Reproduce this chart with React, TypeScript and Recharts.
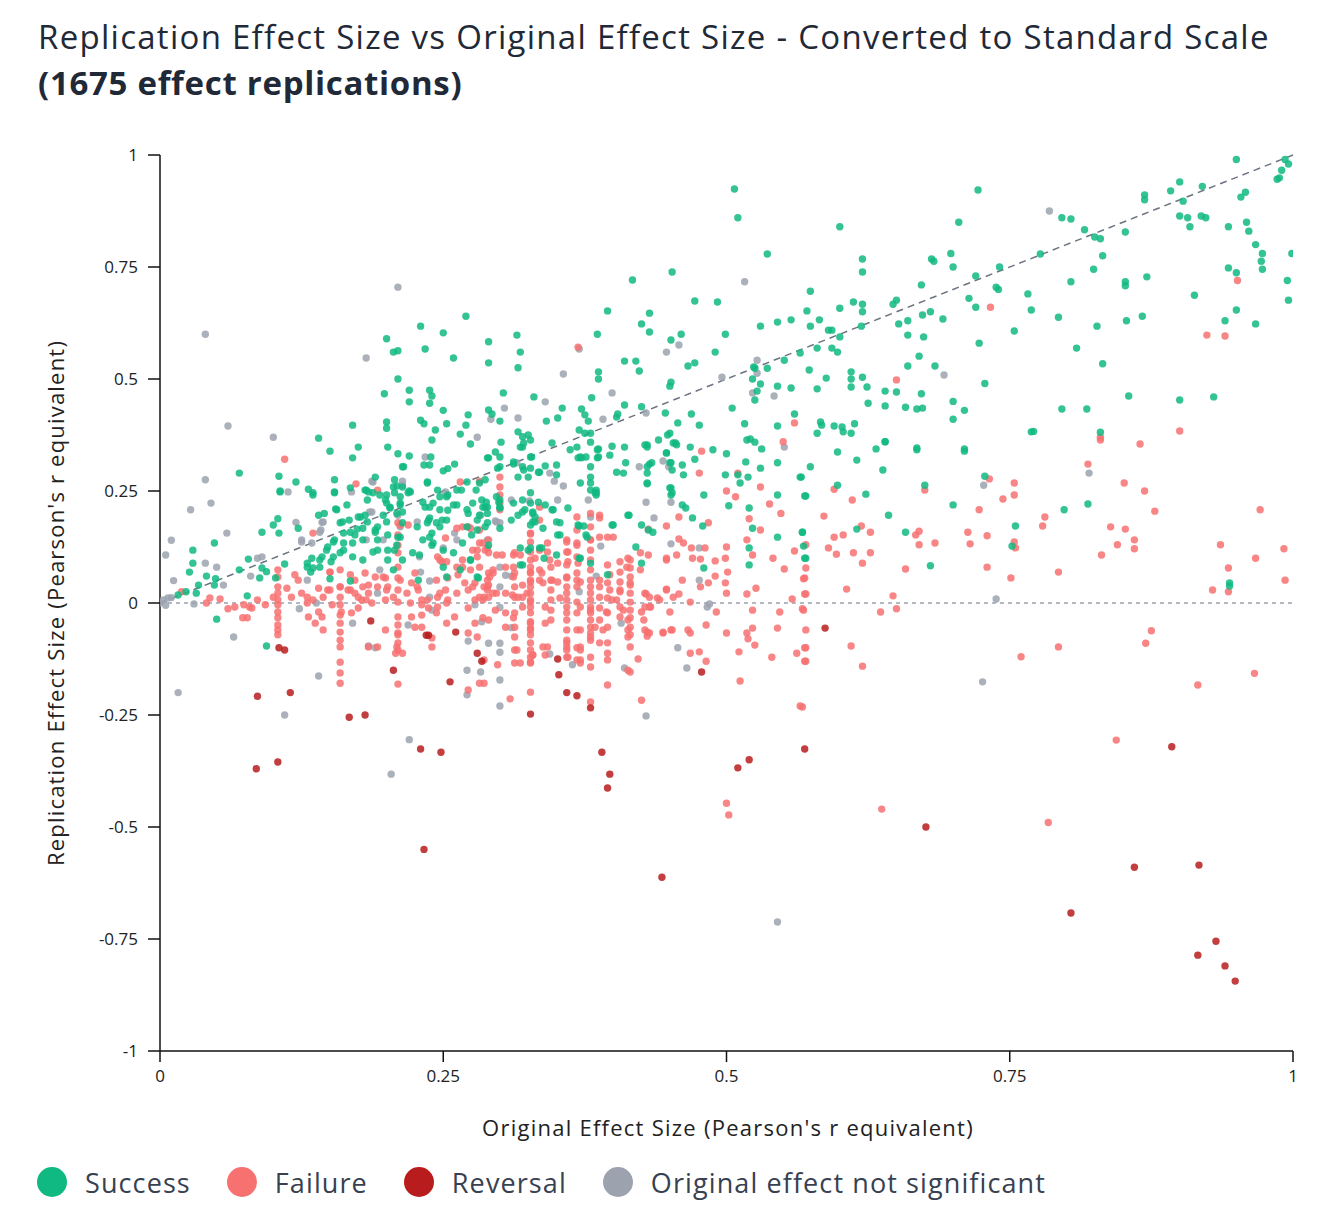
import React from "react";
import {
  ScatterChart,
  Scatter,
  XAxis,
  YAxis,
  ReferenceLine,
} from "recharts";

type Pt = [number, number];

const xTicks = [0, 0.25, 0.5, 0.75, 1];
const yTicks = [-1, -0.75, -0.5, -0.25, 0, 0.25, 0.5, 0.75, 1];

// replication outcome groups, [original r, replication r]
const success: Pt[] = [
  [0.95, 0.99], [0.993, 0.99], [0.996, 0.98], [0.99, 0.966], [0.986, 0.946], [0.988, 0.949], [0.954, 0.906], [0.958, 0.917],
  [0.92, 0.93], [0.9, 0.94], [0.892, 0.92], [0.903, 0.897], [0.869, 0.911], [0.869, 0.9], [0.9, 0.864], [0.907, 0.86],
  [0.909, 0.84], [0.919, 0.864], [0.923, 0.86], [0.943, 0.84], [0.959, 0.85], [0.961, 0.83], [0.967, 0.8], [0.973, 0.78],
  [0.972, 0.763], [0.973, 0.745], [0.999, 0.78], [0.943, 0.748], [0.95, 0.737], [0.995, 0.72], [0.996, 0.676], [0.913, 0.687],
  [0.95, 0.654], [0.94, 0.63], [0.967, 0.623], [0.9, 0.453], [0.93, 0.46], [0.852, 0.717], [0.852, 0.708], [0.871, 0.728],
  [0.853, 0.63], [0.867, 0.64], [0.827, 0.618], [0.832, 0.775], [0.824, 0.745], [0.825, 0.817], [0.83, 0.813], [0.816, 0.833],
  [0.852, 0.828], [0.796, 0.86], [0.804, 0.857], [0.777, 0.779], [0.804, 0.717], [0.809, 0.569], [0.832, 0.534], [0.855, 0.462],
  [0.796, 0.433], [0.818, 0.433], [0.83, 0.381], [0.769, 0.382], [0.771, 0.383], [0.766, 0.69], [0.769, 0.654], [0.793, 0.638],
  [0.754, 0.607], [0.741, 0.75], [0.738, 0.705], [0.74, 0.7], [0.72, 0.73], [0.714, 0.68], [0.72, 0.66], [0.723, 0.58],
  [0.728, 0.49], [0.722, 0.922], [0.705, 0.85], [0.698, 0.78], [0.7, 0.75], [0.681, 0.768], [0.683, 0.763], [0.672, 0.71],
  [0.647, 0.667], [0.65, 0.676], [0.652, 0.623], [0.66, 0.63], [0.673, 0.643], [0.68, 0.65], [0.691, 0.634], [0.66, 0.598],
  [0.674, 0.594], [0.67, 0.551], [0.66, 0.529], [0.684, 0.529], [0.64, 0.473], [0.65, 0.471], [0.672, 0.467], [0.64, 0.44],
  [0.658, 0.437], [0.668, 0.433], [0.673, 0.435], [0.7, 0.45], [0.71, 0.43], [0.7, 0.41], [0.64, 0.36], [0.668, 0.346],
  [0.71, 0.344],
  [0.507, 0.924], [0.51, 0.86], [0.6, 0.84], [0.536, 0.779], [0.62, 0.768], [0.62, 0.739], [0.574, 0.696], [0.417, 0.721],
  [0.452, 0.739], [0.6, 0.658], [0.612, 0.672], [0.62, 0.667], [0.62, 0.65], [0.571, 0.652], [0.582, 0.632], [0.574, 0.618],
  [0.557, 0.632], [0.545, 0.627], [0.53, 0.618], [0.619, 0.618], [0.59, 0.609], [0.593, 0.609], [0.6, 0.594], [0.472, 0.674],
  [0.492, 0.672], [0.395, 0.652], [0.432, 0.647], [0.425, 0.623], [0.432, 0.605], [0.499, 0.6], [0.46, 0.6], [0.451, 0.587],
  [0.386, 0.6], [0.29, 0.583], [0.315, 0.598], [0.318, 0.56], [0.29, 0.536], [0.316, 0.525], [0.41, 0.54], [0.42, 0.54],
  [0.423, 0.518], [0.387, 0.516], [0.387, 0.5], [0.472, 0.536], [0.466, 0.529], [0.49, 0.56], [0.451, 0.493], [0.45, 0.484],
  [0.524, 0.527], [0.525, 0.524], [0.536, 0.524], [0.523, 0.5], [0.53, 0.489], [0.527, 0.473], [0.525, 0.453], [0.551, 0.542],
  [0.565, 0.558], [0.58, 0.569], [0.593, 0.569], [0.598, 0.56], [0.573, 0.52], [0.588, 0.502], [0.58, 0.478], [0.61, 0.516],
  [0.61, 0.5], [0.61, 0.482], [0.62, 0.504], [0.624, 0.482], [0.625, 0.446], [0.545, 0.484], [0.557, 0.48], [0.505, 0.435],
  [0.41, 0.442], [0.425, 0.438], [0.446, 0.424], [0.469, 0.422], [0.303, 0.469], [0.33, 0.46], [0.355, 0.435], [0.381, 0.458],
  [0.372, 0.433], [0.29, 0.431], [0.293, 0.422], [0.3, 0.406], [0.341, 0.406], [0.351, 0.413], [0.375, 0.42], [0.378, 0.406],
  [0.403, 0.415], [0.404, 0.422], [0.457, 0.402], [0.476, 0.397], [0.516, 0.4], [0.545, 0.395], [0.56, 0.422], [0.584, 0.397],
  [0.583, 0.404], [0.595, 0.395], [0.602, 0.393], [0.603, 0.382], [0.61, 0.379], [0.613, 0.4], [0.58, 0.379], [0.316, 0.382],
  [0.32, 0.371], [0.325, 0.375], [0.327, 0.364], [0.301, 0.359], [0.37, 0.386], [0.375, 0.379], [0.38, 0.379], [0.38, 0.359],
  [0.399, 0.35], [0.43, 0.353], [0.44, 0.364], [0.448, 0.375], [0.453, 0.357], [0.518, 0.364], [0.521, 0.366], [0.525, 0.359],
  [0.27, 0.64], [0.23, 0.618], [0.25, 0.603], [0.259, 0.547], [0.2, 0.59], [0.206, 0.56], [0.21, 0.563], [0.234, 0.567],
  [0.21, 0.5], [0.198, 0.467], [0.22, 0.475], [0.22, 0.449], [0.238, 0.475], [0.24, 0.462], [0.238, 0.446], [0.25, 0.43],
  [0.272, 0.42], [0.253, 0.4], [0.27, 0.397], [0.265, 0.377], [0.274, 0.355], [0.23, 0.408], [0.233, 0.4], [0.243, 0.386],
  [0.24, 0.364], [0.2, 0.404], [0.2, 0.39], [0.17, 0.397], [0.201, 0.348], [0.21, 0.333], [0.22, 0.328], [0.215, 0.304],
  [0.17, 0.324], [0.175, 0.348], [0.14, 0.368], [0.15, 0.339], [0.07, 0.29], [0.105, 0.283], [0.106, 0.25], [0.12, 0.27],
  [0.131, 0.254], [0.135, 0.246], [0.154, 0.275], [0.154, 0.248], [0.168, 0.257], [0.182, 0.252], [0.19, 0.281], [0.207, 0.275],
  [0.209, 0.261], [0.22, 0.25], [0.236, 0.27], [0.239, 0.326], [0.233, 0.308], [0.238, 0.308], [0.271, 0.27], [0.245, 0.252],
  [0.254, 0.241], [0.266, 0.252], [0.279, 0.252], [0.25, 0.295], [0.254, 0.3], [0.26, 0.31],
  [0.09, 0.158], [0.104, 0.188], [0.1, 0.174], [0.105, 0.156], [0.122, 0.167], [0.048, 0.134], [0.029, 0.118], [0.029, 0.089],
  [0.026, 0.069], [0.041, 0.06], [0.049, 0.054], [0.048, 0.04], [0.034, 0.04], [0.023, 0.025], [0.016, 0.018], [0.032, 0.022],
  [0.05, -0.036], [0.094, -0.096], [0.07, 0.074], [0.078, 0.098], [0.088, 0.056], [0.077, 0.016], [0.094, 0.07], [0.102, 0.056],
  [0.11, 0.087], [0.13, 0.089], [0.134, 0.1], [0.14, 0.196], [0.145, 0.2], [0.155, 0.21], [0.165, 0.219], [0.159, 0.179],
  [0.167, 0.185], [0.175, 0.192], [0.181, 0.196], [0.174, 0.165], [0.172, 0.152], [0.162, 0.156], [0.154, 0.141], [0.148, 0.125],
  [0.159, 0.112], [0.143, 0.103], [0.151, 0.092], [0.135, 0.078], [0.15, 0.054], [0.168, 0.049], [0.19, 0.163], [0.192, 0.118],
  [0.199, 0.23], [0.203, 0.214], [0.212, 0.223], [0.214, 0.203], [0.214, 0.179], [0.201, 0.152], [0.21, 0.147], [0.207, 0.118],
  [0.201, 0.096], [0.206, 0.074], [0.228, 0.051], [0.229, 0.107], [0.234, 0.214], [0.241, 0.223], [0.237, 0.185], [0.249, 0.185],
  [0.254, 0.207], [0.262, 0.219], [0.272, 0.2], [0.24, 0.156], [0.24, 0.129], [0.25, 0.08], [0.267, 0.134], [0.274, 0.096],
  [0.28, 0.163], [0.253, 0.058], [0.281, 0.056], [0.285, 0.214], [0.207, 0.246], [0.219, 0.246], [0.184, 0.248], [0.154, 0.246],
  [0.135, 0.241], [0.106, 0.248], [0.09, 0.078],
  [0.181, 0.252], [0.188, 0.246], [0.2, 0.241], [0.206, 0.259], [0.214, 0.259], [0.221, 0.248], [0.212, 0.237], [0.214, 0.304],
  [0.236, 0.268], [0.232, 0.225], [0.238, 0.214], [0.247, 0.237], [0.253, 0.237], [0.262, 0.252], [0.259, 0.219], [0.271, 0.208],
  [0.238, 0.19], [0.244, 0.179], [0.236, 0.179], [0.253, 0.185], [0.247, 0.208], [0.156, 0.208], [0.183, 0.23], [0.194, 0.241],
  [0.2, 0.223], [0.203, 0.212], [0.212, 0.219], [0.209, 0.2], [0.197, 0.196], [0.2, 0.181], [0.192, 0.17], [0.183, 0.181],
  [0.177, 0.192], [0.161, 0.181], [0.168, 0.158], [0.179, 0.167], [0.19, 0.158], [0.192, 0.141], [0.179, 0.141], [0.17, 0.134],
  [0.162, 0.134], [0.153, 0.136], [0.147, 0.118], [0.153, 0.103], [0.141, 0.096], [0.13, 0.08], [0.133, 0.069], [0.141, 0.08],
  [0.162, 0.118], [0.17, 0.103], [0.179, 0.096], [0.188, 0.114], [0.201, 0.118], [0.209, 0.129], [0.212, 0.147], [0.214, 0.096],
  [0.223, 0.112], [0.227, 0.17], [0.232, 0.141], [0.238, 0.147], [0.241, 0.134], [0.247, 0.17], [0.276, 0.223], [0.284, 0.23],
  [0.287, 0.214], [0.28, 0.185], [0.271, 0.17], [0.275, 0.152], [0.289, 0.2], [0.25, 0.118], [0.259, 0.112], [0.274, 0.096],
  [0.265, 0.074], [0.28, 0.058],
  [0.29, 0.324], [0.3, 0.326], [0.3, 0.304], [0.312, 0.31], [0.32, 0.348], [0.328, 0.326], [0.327, 0.301], [0.335, 0.292],
  [0.34, 0.306], [0.35, 0.308], [0.35, 0.286], [0.346, 0.357], [0.362, 0.342], [0.368, 0.348], [0.371, 0.326], [0.376, 0.326],
  [0.38, 0.304], [0.387, 0.344], [0.387, 0.326], [0.397, 0.33], [0.41, 0.348], [0.411, 0.313], [0.403, 0.292], [0.409, 0.29],
  [0.432, 0.31], [0.43, 0.29], [0.43, 0.348], [0.447, 0.335], [0.451, 0.313], [0.455, 0.357], [0.461, 0.308], [0.468, 0.348],
  [0.472, 0.321], [0.462, 0.286], [0.488, 0.342], [0.5, 0.333], [0.499, 0.286], [0.51, 0.286], [0.512, 0.268], [0.517, 0.315],
  [0.519, 0.281], [0.53, 0.301], [0.531, 0.344], [0.545, 0.313], [0.545, 0.241], [0.566, 0.281], [0.569, 0.239], [0.48, 0.241],
  [0.451, 0.257], [0.451, 0.241], [0.43, 0.266], [0.461, 0.219], [0.464, 0.212], [0.47, 0.19], [0.479, 0.172], [0.502, 0.217],
  [0.52, 0.212], [0.523, 0.167], [0.545, 0.147], [0.567, 0.158], [0.569, 0.1], [0.52, 0.123], [0.52, 0.085], [0.48, 0.078],
  [0.42, 0.125], [0.425, 0.089], [0.414, 0.196], [0.4, 0.174], [0.425, 0.174], [0.431, 0.163],
  [0.282, 0.268], [0.287, 0.275], [0.288, 0.225], [0.297, 0.237], [0.299, 0.225], [0.3, 0.214], [0.3, 0.167], [0.31, 0.185],
  [0.32, 0.23], [0.32, 0.203], [0.322, 0.208], [0.327, 0.246], [0.329, 0.203], [0.334, 0.225], [0.34, 0.219], [0.338, 0.167],
  [0.329, 0.181], [0.331, 0.192], [0.347, 0.208], [0.35, 0.181], [0.353, 0.152], [0.36, 0.212], [0.37, 0.172], [0.374, 0.172],
  [0.38, 0.252], [0.385, 0.246], [0.377, 0.147], [0.327, 0.123], [0.337, 0.123], [0.35, 0.107], [0.371, 0.1], [0.38, 0.089],
  [0.395, 0.063], [0.318, 0.085], [0.339, 0.1],
  [0.318, 0.348], [0.321, 0.357], [0.296, 0.337], [0.289, 0.324], [0.298, 0.301], [0.312, 0.315], [0.32, 0.304], [0.327, 0.326],
  [0.321, 0.297], [0.334, 0.292], [0.316, 0.281], [0.325, 0.281], [0.369, 0.324], [0.372, 0.324], [0.386, 0.342], [0.386, 0.324],
  [0.38, 0.281], [0.38, 0.268], [0.371, 0.268], [0.385, 0.252], [0.385, 0.241], [0.428, 0.353], [0.45, 0.379], [0.456, 0.353],
  [0.434, 0.313], [0.43, 0.304], [0.45, 0.313], [0.452, 0.297], [0.447, 0.335], [0.45, 0.257], [0.452, 0.246], [0.43, 0.268],
  [0.289, 0.214], [0.282, 0.196], [0.3, 0.23], [0.3, 0.212], [0.289, 0.179], [0.287, 0.17], [0.312, 0.223], [0.327, 0.223],
  [0.346, 0.208], [0.329, 0.2], [0.331, 0.181], [0.327, 0.174], [0.316, 0.196], [0.353, 0.179], [0.369, 0.174], [0.384, 0.246],
  [0.399, 0.174], [0.413, 0.196], [0.435, 0.158],
  [0.29, 0.129], [0.325, 0.118], [0.318, 0.123], [0.335, 0.123], [0.32, 0.085], [0.37, 0.1], [0.376, 0.152], [0.351, 0.152],
  [0.565, 0.281], [0.574, 0.304], [0.598, 0.337], [0.615, 0.319], [0.632, 0.344], [0.64, 0.36], [0.638, 0.297], [0.668, 0.342],
  [0.71, 0.339], [0.57, 0.239], [0.598, 0.263], [0.623, 0.243], [0.675, 0.263], [0.643, 0.196], [0.7, 0.219], [0.728, 0.283],
  [0.798, 0.208], [0.819, 0.221], [0.567, 0.158], [0.615, 0.165], [0.658, 0.158], [0.568, 0.127], [0.57, 0.1], [0.68, 0.083],
  [0.755, 0.172], [0.752, 0.127], [0.944, 0.045], [0.944, 0.038],
];

const failure: Pt[] = [
  [0.595, 0.254], [0.611, 0.23], [0.586, 0.194], [0.619, 0.172], [0.627, 0.158], [0.603, 0.152], [0.595, 0.147], [0.59, 0.123],
  [0.597, 0.109], [0.612, 0.112], [0.627, 0.112], [0.62, 0.089], [0.57, 0.13], [0.57, 0.078], [0.568, 0.054], [0.57, 0.02],
  [0.568, -0.016], [0.606, 0.031], [0.647, 0.016], [0.636, -0.02], [0.65, -0.013], [0.658, 0.076], [0.675, 0.252], [0.667, 0.152],
  [0.67, 0.16], [0.67, 0.13], [0.684, 0.134], [0.732, 0.277], [0.723, 0.208], [0.744, 0.232], [0.754, 0.268], [0.754, 0.241],
  [0.713, 0.158], [0.715, 0.132], [0.73, 0.15], [0.73, 0.08], [0.754, 0.136], [0.755, 0.123], [0.751, 0.056], [0.779, 0.172],
  [0.781, 0.192], [0.793, 0.069], [0.819, 0.31], [0.83, 0.364], [0.865, 0.355], [0.851, 0.268], [0.869, 0.25], [0.878, 0.205],
  [0.839, 0.17], [0.852, 0.165], [0.86, 0.141], [0.86, 0.121], [0.845, 0.13], [0.831, 0.107], [0.971, 0.208], [0.936, 0.13],
  [0.943, 0.078], [0.929, 0.029], [0.943, 0.025], [0.967, 0.1], [0.992, 0.121], [0.993, 0.051], [0.57, -0.06], [0.57, -0.1],
  [0.57, -0.13], [0.567, -0.232], [0.61, -0.096], [0.62, -0.141], [0.76, -0.12], [0.793, -0.098], [0.875, -0.062], [0.87, -0.09],
  [0.916, -0.183], [0.966, -0.157], [0.844, -0.306], [0.637, -0.46], [0.5, -0.447], [0.502, -0.473], [0.565, -0.23], [0.784, -0.49],
  [0.951, 0.72], [0.94, 0.596], [0.924, 0.598], [0.9, 0.384], [0.83, 0.37], [0.56, 0.402], [0.55, 0.36], [0.733, 0.66],
  [0.65, 0.498], [0.369, 0.571], [0.11, 0.321],
  [0.478, 0.339], [0.476, 0.29], [0.5, 0.25], [0.508, 0.237], [0.51, 0.29], [0.53, 0.259], [0.538, 0.221], [0.548, 0.2],
  [0.52, 0.188], [0.53, 0.163], [0.484, 0.179], [0.458, 0.192], [0.447, 0.172], [0.431, 0.165], [0.458, 0.143], [0.462, 0.134],
  [0.469, 0.123], [0.481, 0.123], [0.5, 0.125], [0.518, 0.141], [0.523, 0.107], [0.541, 0.1], [0.56, 0.116], [0.569, 0.056],
  [0.551, 0.076], [0.477, 0.098], [0.47, 0.1], [0.49, 0.094], [0.499, 0.1], [0.501, 0.069], [0.499, 0.045], [0.49, 0.06],
  [0.484, 0.045], [0.477, 0.036], [0.461, 0.051], [0.458, 0.02], [0.447, 0.1], [0.447, 0.031], [0.439, 0.011], [0.429, 0.02],
  [0.433, -0.009], [0.425, -0.02], [0.45, -0.02], [0.468, 0.002], [0.491, -0.02], [0.5, 0.022], [0.518, 0.02], [0.526, 0.033],
  [0.523, -0.016], [0.547, -0.02], [0.558, 0.009], [0.567, -0.013], [0.569, 0.02], [0.545, -0.056], [0.518, -0.067], [0.523, -0.056],
  [0.5, -0.067], [0.482, -0.049], [0.466, -0.06], [0.468, -0.067], [0.451, -0.06], [0.444, -0.067], [0.43, -0.065], [0.43, -0.074],
  [0.468, -0.112], [0.476, -0.109], [0.482, -0.13], [0.511, -0.109], [0.519, -0.08], [0.525, -0.094], [0.54, -0.121], [0.562, -0.112],
  [0.569, -0.1], [0.569, -0.13], [0.512, -0.174], [0.425, -0.217],
  [0.327, 0.156], [0.327, 0.136], [0.327, 0.114], [0.327, 0.096], [0.327, 0.08], [0.327, 0.067], [0.327, 0.051], [0.327, 0.036],
  [0.327, 0.022], [0.327, 0.007], [0.327, -0.009], [0.327, -0.022], [0.327, -0.042], [0.327, -0.056], [0.327, -0.071], [0.327, -0.089],
  [0.327, -0.105], [0.327, -0.121], [0.327, -0.132], [0.327, -0.199],
  [0.359, 0.141], [0.359, 0.114], [0.359, 0.085], [0.359, 0.058], [0.359, 0.036], [0.359, 0.022], [0.359, 0.007], [0.359, -0.009],
  [0.359, -0.022], [0.359, -0.038], [0.359, -0.06], [0.359, -0.083], [0.359, -0.098], [0.359, -0.121],
  [0.38, 0.2], [0.38, 0.17], [0.38, 0.141], [0.38, 0.118], [0.38, 0.096], [0.38, 0.074], [0.38, 0.051], [0.38, 0.036],
  [0.38, 0.022], [0.38, 0.007], [0.38, -0.009], [0.38, -0.022], [0.38, -0.038], [0.38, -0.054], [0.38, -0.067], [0.38, -0.083],
  [0.38, -0.143],
  [0.415, 0.096], [0.415, 0.078], [0.415, 0.058], [0.415, 0.04], [0.415, 0.022], [0.415, 0.002], [0.415, -0.016], [0.415, -0.033],
  [0.415, -0.054], [0.415, -0.071], [0.415, -0.098], [0.415, -0.154],
  [0.395, 0.085], [0.395, 0.045], [0.395, 0.011], [0.395, -0.022], [0.395, -0.054], [0.395, -0.089], [0.395, -0.127], [0.395, -0.183],
  [0.345, 0.08], [0.345, 0.051], [0.345, 0.029], [0.345, 0.007], [0.345, -0.016], [0.345, -0.038],
  [0.313, 0.112], [0.313, 0.067], [0.313, 0.036], [0.313, 0.013], [0.313, -0.022], [0.313, -0.054], [0.313, -0.076], [0.313, -0.105],
  [0.313, -0.134],
  [0.29, 0.141], [0.29, 0.112], [0.29, 0.067], [0.29, 0.04], [0.29, 0.013], [0.29, -0.038],
  [0.335, 0.214], [0.335, 0.185], [0.335, 0.118], [0.335, 0.074], [0.335, 0.051],
  [0.368, 0.192], [0.368, 0.163], [0.368, 0.134], [0.368, 0.103], [0.368, 0.067], [0.368, 0.036], [0.368, -0.022], [0.368, -0.06],
  [0.368, -0.1], [0.368, -0.127],
  [0.388, 0.196], [0.388, 0.19], [0.388, 0.147], [0.388, 0.036], [0.388, 0.013], [0.388, -0.011], [0.388, -0.089],
  [0.406, 0.069], [0.406, 0.029], [0.406, -0.009], [0.406, -0.031],
  [0.305, 0.08], [0.305, 0.022], [0.305, -0.022], [0.305, -0.054],
  [0.32, 0.04], [0.32, 0.013], [0.32, -0.009],
  [0.286, 0.036], [0.286, 0.013], [0.286, -0.127], [0.286, -0.179],
  [0.3, 0.281], [0.3, 0.259], [0.3, 0.241], [0.3, 0.223], [0.3, 0.208],
  [0.309, -0.214], [0.318, -0.134], [0.329, -0.116], [0.342, -0.098], [0.34, -0.116], [0.371, -0.105], [0.371, -0.127], [0.422, -0.125],
  [0.38, -0.221],
  [0.327, 0.154], [0.359, 0.136], [0.368, 0.129], [0.38, 0.141], [0.395, 0.147], [0.4, 0.147], [0.342, 0.134], [0.285, 0.134],
  [0.287, 0.118], [0.297, 0.107], [0.302, 0.107], [0.312, 0.107], [0.318, 0.107], [0.331, 0.1], [0.342, 0.114], [0.344, 0.096],
  [0.351, 0.089], [0.36, 0.114], [0.36, 0.092], [0.369, 0.089], [0.406, 0.092], [0.413, 0.1], [0.424, 0.112], [0.431, 0.107],
  [0.412, 0.08], [0.424, 0.074], [0.447, 0.096], [0.456, 0.107], [0.294, 0.067], [0.289, 0.051], [0.312, 0.08], [0.312, 0.058],
  [0.327, 0.069], [0.327, 0.047], [0.337, 0.067], [0.338, 0.045], [0.346, 0.051], [0.351, 0.047], [0.359, 0.056], [0.368, 0.051],
  [0.371, 0.047], [0.388, 0.051], [0.397, 0.063], [0.406, 0.047], [0.415, 0.045], [0.397, 0.029], [0.406, 0.025], [0.428, 0.022],
  [0.432, 0.013], [0.447, 0.029], [0.441, 0.007], [0.453, 0.013], [0.282, 0.013], [0.289, 0.029], [0.297, 0.022], [0.296, -0.016],
  [0.285, -0.033], [0.311, 0.018], [0.316, 0.013], [0.324, 0.022], [0.327, 0.002], [0.312, -0.033], [0.327, -0.045], [0.327, -0.06],
  [0.34, -0.009], [0.34, -0.045], [0.353, 0.011], [0.368, 0.002], [0.371, -0.009], [0.38, -0.016], [0.388, -0.038], [0.394, -0.02],
  [0.384, -0.054], [0.391, -0.06], [0.399, 0.007], [0.403, 0.007], [0.409, -0.016], [0.413, -0.038], [0.413, -0.06], [0.413, -0.076],
  [0.428, -0.009], [0.432, -0.009], [0.428, -0.06], [0.432, -0.067], [0.444, -0.065], [0.452, -0.06], [0.427, -0.038],
  [0.359, -0.089], [0.359, -0.105], [0.371, -0.06], [0.371, -0.098], [0.38, -0.076], [0.38, -0.121], [0.395, -0.112], [0.338, -0.098],
  [0.315, -0.105], [0.329, -0.116], [0.327, -0.134], [0.298, -0.138], [0.371, -0.134], [0.36, -0.121], [0.413, -0.15],
  [0.104, 0.074], [0.104, 0.058], [0.104, 0.036], [0.104, 0.022], [0.104, 0.007], [0.104, -0.004], [0.104, -0.02], [0.104, -0.033],
  [0.104, -0.049], [0.104, -0.06], [0.104, -0.071],
  [0.159, 0.074], [0.159, 0.036], [0.159, 0.013], [0.159, -0.004], [0.159, -0.027], [0.159, -0.045], [0.159, -0.065], [0.159, -0.083],
  [0.159, -0.098], [0.159, -0.132], [0.159, -0.156], [0.159, -0.179],
  [0.21, 0.179], [0.21, 0.152], [0.21, 0.129], [0.21, 0.112], [0.21, 0.08], [0.21, 0.056], [0.21, 0.029], [0.21, 0.002],
  [0.21, -0.031], [0.21, -0.049], [0.21, -0.067], [0.21, -0.089], [0.21, -0.105], [0.21, -0.181],
  [0.135, 0.156], [0.15, 0.069], [0.119, 0.063], [0.122, 0.051], [0.112, 0.033], [0.1, 0.013], [0.086, 0.007], [0.074, -0.004],
  [0.079, -0.009], [0.06, -0.013], [0.066, -0.009], [0.073, -0.033], [0.077, -0.033], [0.081, -0.011], [0.093, -0.004], [0.116, 0.013],
  [0.125, 0.022], [0.13, 0.0], [0.131, -0.031], [0.14, -0.02], [0.143, -0.031], [0.152, -0.004], [0.144, -0.06], [0.137, -0.045],
  [0.148, 0.029], [0.172, 0.022], [0.178, 0.007], [0.184, 0.022], [0.187, 0.0], [0.199, 0.007], [0.201, 0.036], [0.199, 0.056],
  [0.19, 0.058], [0.181, 0.067], [0.184, 0.04], [0.172, 0.051], [0.166, 0.029], [0.175, -0.011], [0.169, -0.022], [0.16, -0.02],
  [0.225, 0.067], [0.222, 0.045], [0.228, 0.029], [0.231, 0.007], [0.231, -0.004], [0.222, -0.031], [0.225, -0.054], [0.231, -0.027],
  [0.237, -0.011], [0.245, 0.013], [0.245, -0.009], [0.254, 0.007], [0.252, 0.029], [0.254, 0.056], [0.263, 0.063], [0.269, 0.045],
  [0.272, 0.029], [0.278, 0.007], [0.272, -0.011], [0.278, 0.045], [0.282, 0.08], [0.267, 0.08], [0.249, 0.092], [0.245, 0.103],
  [0.252, 0.145], [0.262, 0.167], [0.272, 0.17], [0.28, 0.118], [0.282, 0.163], [0.278, -0.045], [0.272, -0.067], [0.28, -0.076],
  [0.24, -0.078], [0.244, -0.022], [0.26, -0.031], [0.253, -0.045], [0.231, -0.054], [0.24, -0.098], [0.209, -0.098], [0.214, -0.112],
  [0.208, -0.112], [0.21, -0.071], [0.199, -0.06], [0.184, -0.098], [0.192, -0.098], [0.272, -0.194], [0.282, -0.179],
  [0.019, 0.025], [0.041, 0.0], [0.053, 0.009], [0.044, 0.011], [0.173, 0.266], [0.192, 0.252], [0.265, 0.27], [0.282, 0.272],
  [0.219, 0.174], [0.212, 0.174], [0.267, 0.17], [0.274, 0.167], [0.282, 0.134], [0.289, 0.123], [0.276, 0.118], [0.28, 0.103],
  [0.247, 0.096], [0.253, 0.092], [0.262, 0.08], [0.267, 0.096], [0.274, 0.074], [0.294, 0.074], [0.291, 0.058], [0.289, 0.036],
  [0.14, 0.033], [0.15, 0.069], [0.168, 0.063], [0.159, 0.036], [0.15, 0.029], [0.144, 0.013], [0.135, 0.007], [0.13, 0.013],
  [0.168, 0.029], [0.175, 0.013], [0.179, 0.036], [0.182, 0.007], [0.192, 0.036], [0.197, 0.058], [0.2, 0.029], [0.212, 0.051],
  [0.206, 0.013], [0.218, 0.022], [0.221, 0.0], [0.227, 0.036], [0.236, 0.007], [0.244, 0.051], [0.247, 0.022], [0.253, 0.0],
  [0.262, 0.022], [0.276, 0.036], [0.285, 0.007], [0.294, 0.022],
];

const reversal: Pt[] = [
  [0.086, -0.208], [0.085, -0.37], [0.104, -0.355], [0.115, -0.2], [0.105, -0.1], [0.11, -0.105], [0.167, -0.255], [0.181, -0.25],
  [0.186, -0.04], [0.235, -0.072], [0.237, -0.072], [0.261, -0.065], [0.206, -0.15], [0.256, -0.176], [0.28, -0.112], [0.284, -0.13],
  [0.23, -0.326], [0.248, -0.333], [0.233, -0.55], [0.351, -0.125], [0.352, -0.16], [0.359, -0.2], [0.368, -0.207], [0.38, -0.234],
  [0.327, -0.248], [0.478, -0.154], [0.39, -0.333], [0.397, -0.382], [0.395, -0.413], [0.443, -0.612], [0.51, -0.368], [0.52, -0.35],
  [0.569, -0.326], [0.587, -0.056], [0.676, -0.5], [0.804, -0.692], [0.86, -0.59], [0.893, -0.321], [0.917, -0.585], [0.916, -0.786],
  [0.932, -0.755], [0.94, -0.81], [0.949, -0.844],
];

const notSignificant: Pt[] = [
  [0.0, 0.0], [0.003, 0.007], [0.005, -0.005], [0.01, 0.012], [0.005, 0.107], [0.01, 0.14], [0.012, 0.05], [0.007, 0.011],
  [0.027, 0.208], [0.045, 0.223], [0.059, 0.156], [0.04, 0.089], [0.05, 0.08], [0.056, 0.04], [0.03, -0.002], [0.016, -0.2],
  [0.065, -0.076], [0.04, 0.275], [0.06, 0.395], [0.1, 0.37], [0.04, 0.6], [0.21, 0.705], [0.182, 0.547], [0.113, 0.248],
  [0.234, 0.326], [0.214, 0.272], [0.187, 0.272], [0.28, 0.37], [0.11, -0.25], [0.14, -0.163], [0.22, -0.305], [0.204, -0.382],
  [0.271, -0.15], [0.283, -0.154], [0.271, -0.205], [0.3, -0.23], [0.3, -0.172], [0.29, -0.09], [0.3, -0.09], [0.3, -0.11],
  [0.31, -0.055], [0.3, 0.08], [0.305, 0.062], [0.31, 0.06], [0.3, 0.036], [0.3, -0.01], [0.344, -0.114], [0.364, -0.138],
  [0.385, 0.06], [0.37, 0.025], [0.407, -0.045], [0.41, -0.145], [0.429, -0.252], [0.457, -0.1], [0.465, -0.145], [0.476, 0.051],
  [0.483, -0.009], [0.476, 0.123], [0.451, 0.132], [0.451, 0.225], [0.429, 0.225], [0.436, 0.19], [0.344, 0.29], [0.348, 0.272],
  [0.356, 0.261], [0.351, 0.23], [0.378, 0.23], [0.38, 0.192], [0.315, 0.313], [0.31, 0.23], [0.326, 0.228], [0.296, 0.183],
  [0.3, 0.179], [0.389, 0.127], [0.444, 0.317], [0.449, 0.304], [0.423, 0.304], [0.551, 0.348], [0.516, 0.717], [0.496, 0.504],
  [0.527, 0.542], [0.527, 0.513], [0.523, 0.469], [0.542, 0.462], [0.692, 0.509], [0.785, 0.875], [0.82, 0.29], [0.727, 0.263],
  [0.738, 0.009], [0.726, -0.176], [0.545, -0.712], [0.485, -0.002], [0.24, -0.016], [0.184, -0.096], [0.19, -0.1], [0.219, -0.049],
  [0.123, -0.013], [0.17, -0.045], [0.356, 0.511], [0.37, 0.567], [0.458, 0.576], [0.447, 0.56], [0.304, 0.435], [0.316, 0.413],
  [0.292, 0.41], [0.34, 0.449], [0.391, 0.41], [0.399, 0.469], [0.429, 0.424],
  [0.086, 0.1], [0.09, 0.103], [0.08, 0.06], [0.12, 0.18], [0.125, 0.136], [0.142, 0.163], [0.143, 0.18], [0.187, 0.203],
  [0.21, 0.196], [0.23, 0.069], [0.238, 0.049], [0.26, 0.156], [0.262, 0.141], [0.25, 0.123], [0.283, 0.196], [0.284, -0.042],
  [0.272, -0.085], [0.278, -0.004],
  [0.188, 0.27], [0.169, 0.248], [0.185, 0.203], [0.214, 0.263], [0.144, 0.181], [0.141, 0.158], [0.125, 0.141], [0.134, 0.134],
  [0.182, 0.141], [0.197, 0.141], [0.212, 0.17], [0.227, 0.181], [0.194, 0.074], [0.229, 0.103], [0.252, 0.248], [0.297, 0.181],
  [0.289, 0.141], [0.13, 0.051], [0.138, 0.0], [0.192, 0.022], [0.238, 0.013],
];

const COLORS = {
  success: "#10b981",
  failure: "#f87171",
  reversal: "#b91c1c",
  ns: "#9ca3af",
};

const legendItems = [
  { label: "Success", color: COLORS.success },
  { label: "Failure", color: COLORS.failure },
  { label: "Reversal", color: COLORS.reversal },
  { label: "Original effect not significant", color: COLORS.ns },
];

const toRows = (pts: Pt[]) => pts.map(([x, y]) => ({ x, y }));

const dot = (color: string) => (props: any) => (
  <circle cx={props.cx} cy={props.cy} r={3.7} fill={color} fillOpacity={0.85} />
);

const FONT = "'Open Sans', 'Noto Sans', sans-serif";

export default function App() {
  return (
    <div
      style={{
        position: "absolute",
        left: 0,
        top: 0,
        width: 1322,
        height: 1228,
        background: "#fff",
        fontFamily: FONT,
        color: "#1f2937",
      }}
    >
      <div style={{ position: "absolute", left: 38, top: 14, fontSize: 33, lineHeight: "46px" }}>
        <div style={{ letterSpacing: 1.28 }}>
          Replication Effect Size vs Original Effect Size - Converted to Standard Scale
        </div>
        <div style={{ fontWeight: 700, letterSpacing: 0.7 }}>(1675 effect replications)</div>
      </div>

      <div style={{ position: "absolute", left: 0, top: 0 }}>
        <ScatterChart
          width={1322}
          height={1228}
          margin={{ top: 155, right: 29, bottom: 137, left: 0 }}
        >
          <XAxis
            type="number"
            dataKey="x"
            domain={[0, 1]}
            ticks={xTicks}
            allowDataOverflow
            height={40}
            tickSize={11}
            tickMargin={8}
            stroke="#111"
            strokeWidth={1.5}
            tick={{ fontSize: 17, fill: "#222" }}
            tickFormatter={(v: number) => String(v)}
            label={{
              value: "Original Effect Size (Pearson's r equivalent)",
              content: (p: any) => (
                <text
                  x={728}
                  y={1136}
                  textAnchor="middle"
                  fontSize={22}
                  letterSpacing={1.25}
                  fill="#222"
                >
                  {p.value}
                </text>
              ),
            }}
          />
          <YAxis
            type="number"
            dataKey="y"
            domain={[-1, 1]}
            ticks={yTicks}
            allowDataOverflow
            width={160}
            tickSize={12}
            tickMargin={10}
            stroke="#111"
            strokeWidth={1.5}
            tick={{ fontSize: 17, fill: "#222" }}
            tickFormatter={(v: number) => String(v)}
            label={{
              value: "Replication Effect Size (Pearson's r equivalent)",
              content: (p: any) => (
                <text
                  x={64}
                  y={603}
                  textAnchor="middle"
                  fontSize={22}
                  letterSpacing={1.2}
                  fill="#222"
                  transform="rotate(-90 64 603)"
                >
                  {p.value}
                </text>
              ),
            }}
          />
          <ReferenceLine y={0} stroke="#9ca3af" strokeDasharray="4 4" strokeWidth={1.5} />
          <ReferenceLine
            segment={[
              { x: 0, y: 0 },
              { x: 1, y: 1 },
            ]}
            stroke="#6b7280"
            strokeDasharray="7 5"
            strokeWidth={1.5}
          />
          <Scatter data={toRows(notSignificant)} shape={dot(COLORS.ns)} isAnimationActive={false} />
          <Scatter data={toRows(failure)} shape={dot(COLORS.failure)} isAnimationActive={false} />
          <Scatter data={toRows(success)} shape={dot(COLORS.success)} isAnimationActive={false} />
          <Scatter data={toRows(reversal)} shape={dot(COLORS.reversal)} isAnimationActive={false} />
        </ScatterChart>
      </div>

      <div
        style={{
          position: "absolute",
          left: 37,
          top: 1162,
          display: "flex",
          alignItems: "center",
          height: 40,
        }}
      >
        {legendItems.map((it) => (
          <div key={it.label} style={{ display: "flex", alignItems: "center", marginRight: 36 }}>
            <span
              style={{
                display: "inline-block",
                width: 30,
                height: 30,
                borderRadius: "50%",
                background: it.color,
                marginRight: 18,
              }}
            />
            <span style={{ fontSize: 27, letterSpacing: 1.1, color: "#374151" }}>{it.label}</span>
          </div>
        ))}
      </div>
    </div>
  );
}
